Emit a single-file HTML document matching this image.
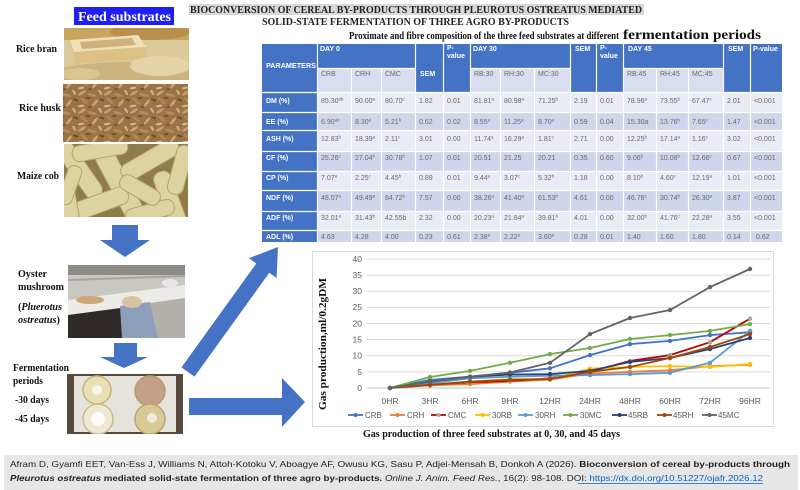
<!DOCTYPE html>
<html><head><meta charset="utf-8"><style>
html,body{margin:0;padding:0;background:#fff;width:800px;height:490px;overflow:hidden}
svg{display:block}
.sb{font-family:"Liberation Serif",serif;font-weight:bold}
.ss{font-family:"Liberation Sans",sans-serif}
.td{font-family:"Liberation Sans",sans-serif;font-size:7px;fill:#6b6b6b}
.th{font-family:"Liberation Sans",sans-serif;font-size:7px;fill:#fff;font-weight:bold}
.tk{font-family:"Liberation Sans",sans-serif;font-size:8.5px;fill:#595959}
.lg{font-family:"Liberation Sans",sans-serif;font-size:8px;fill:#595959}
</style></head><body>
<svg width="800" height="490" viewBox="0 0 800 490" xmlns="http://www.w3.org/2000/svg">
<defs>
<pattern id="husk" width="26" height="18" patternUnits="userSpaceOnUse">
<rect width="26" height="18" fill="#9a7348"/>
<ellipse cx="4" cy="3" rx="4.5" ry="1.4" fill="#c9a06a" transform="rotate(-30 4 3)"/>
<ellipse cx="14" cy="5" rx="5" ry="1.4" fill="#b88c58" transform="rotate(15 14 5)"/>
<ellipse cx="22" cy="2" rx="3.5" ry="1.2" fill="#d4ae78" transform="rotate(60 22 2)"/>
<ellipse cx="6" cy="11" rx="5" ry="1.5" fill="#b48552" transform="rotate(40 6 11)"/>
<ellipse cx="17" cy="13" rx="4.5" ry="1.3" fill="#cfa670" transform="rotate(-50 17 13)"/>
<ellipse cx="24" cy="10" rx="3" ry="1" fill="#6e4a28" transform="rotate(20 24 10)"/>
<ellipse cx="10" cy="8" rx="2.5" ry="0.8" fill="#6a4626"/>
<ellipse cx="3" cy="16" rx="3.5" ry="1.1" fill="#d8b884" transform="rotate(-10 3 16)"/>
<ellipse cx="12" cy="17" rx="2" ry="0.8" fill="#704c2a"/>
</pattern>
<clipPath id="c1"><rect x="64" y="28" width="125" height="52"/></clipPath>
<clipPath id="c3"><rect x="64" y="144" width="124" height="73"/></clipPath>
<clipPath id="c4"><rect x="68" y="265" width="117" height="73"/></clipPath>
<clipPath id="c5"><rect x="67" y="374" width="116" height="60"/></clipPath>
<marker id="mCRB" markerWidth="6" markerHeight="6" refX="3" refY="3" markerUnits="userSpaceOnUse"><circle cx="3" cy="3" r="2.2" fill="#4472c4"/></marker>
<marker id="mCRH" markerWidth="6" markerHeight="6" refX="3" refY="3" markerUnits="userSpaceOnUse"><circle cx="3" cy="3" r="2.2" fill="#ed7d31"/></marker>
<marker id="mCMC" markerWidth="6" markerHeight="6" refX="3" refY="3" markerUnits="userSpaceOnUse"><circle cx="3" cy="3" r="2.2" fill="#a5a5a5"/></marker>
<marker id="m30RB" markerWidth="6" markerHeight="6" refX="3" refY="3" markerUnits="userSpaceOnUse"><circle cx="3" cy="3" r="2.2" fill="#ffc000"/></marker>
<marker id="m30RH" markerWidth="6" markerHeight="6" refX="3" refY="3" markerUnits="userSpaceOnUse"><circle cx="3" cy="3" r="2.2" fill="#5b9bd5"/></marker>
<marker id="m30MC" markerWidth="6" markerHeight="6" refX="3" refY="3" markerUnits="userSpaceOnUse"><circle cx="3" cy="3" r="2.2" fill="#70ad47"/></marker>
<marker id="m45RB" markerWidth="6" markerHeight="6" refX="3" refY="3" markerUnits="userSpaceOnUse"><circle cx="3" cy="3" r="2.2" fill="#264478"/></marker>
<marker id="m45RH" markerWidth="6" markerHeight="6" refX="3" refY="3" markerUnits="userSpaceOnUse"><circle cx="3" cy="3" r="2.2" fill="#9e480e"/></marker>
<marker id="m45MC" markerWidth="6" markerHeight="6" refX="3" refY="3" markerUnits="userSpaceOnUse"><circle cx="3" cy="3" r="2.2" fill="#636363"/></marker>
</defs>

<!-- Titles -->
<rect x="74" y="7" width="100" height="18" fill="#1f1ff5"/>
<text x="78" y="21" class="sb" font-size="14" fill="#fff" textLength="93" lengthAdjust="spacingAndGlyphs">Feed substrates</text>
<rect x="189" y="4" width="455" height="11" fill="#d9d9d9"/>
<text x="190" y="13" class="sb" font-size="10.5" fill="#222" textLength="452" lengthAdjust="spacingAndGlyphs">BIOCONVERSION OF CEREAL BY-PRODUCTS THROUGH  PLEUROTUS OSTREATUS MEDIATED</text>
<text x="262" y="25" class="sb" font-size="10.5" fill="#222" textLength="307" lengthAdjust="spacingAndGlyphs">SOLID-STATE FERMENTATION OF THREE AGRO BY-PRODUCTS</text>
<text x="349" y="39" class="sb" font-size="10.5" fill="#111" textLength="270" lengthAdjust="spacingAndGlyphs">Proximate and fibre composition of the three feed substrates at different</text>
<text x="623" y="39" class="sb" font-size="13.5" fill="#111" textLength="86" lengthAdjust="spacingAndGlyphs">fermentation</text>
<text x="713" y="39" class="sb" font-size="13.5" fill="#111" textLength="48" lengthAdjust="spacingAndGlyphs">periods</text>

<!-- Left labels -->
<g class="sb" font-size="10" fill="#111">
<text x="16" y="52" textLength="41" lengthAdjust="spacingAndGlyphs">Rice bran</text>
<text x="19" y="111" textLength="42" lengthAdjust="spacingAndGlyphs">Rice husk</text>
<text x="17" y="179" textLength="42" lengthAdjust="spacingAndGlyphs">Maize cob</text>
<text x="18" y="277" textLength="29" lengthAdjust="spacingAndGlyphs">Oyster</text>
<text x="18" y="290" textLength="46" lengthAdjust="spacingAndGlyphs">mushroom</text>
<text x="18" y="310" textLength="44" lengthAdjust="spacingAndGlyphs">(<tspan font-style="italic">Pluerotus</tspan></text>
<text x="18" y="323" textLength="42" lengthAdjust="spacingAndGlyphs"><tspan font-style="italic">ostreatus</tspan>)</text>
<text x="13" y="371" textLength="56" lengthAdjust="spacingAndGlyphs">Fermentation</text>
<text x="13" y="384" textLength="30" lengthAdjust="spacingAndGlyphs">periods</text>
<text x="15" y="403" textLength="34" lengthAdjust="spacingAndGlyphs">-30 days</text>
<text x="15" y="422" textLength="34" lengthAdjust="spacingAndGlyphs">-45 days</text>
</g>

<!-- Rice bran photo -->
<g clip-path="url(#c1)">
<rect x="64" y="28" width="125" height="52" fill="#dcc99a"/>
<rect x="64" y="28" width="125" height="12" fill="#c9a660"/>
<ellipse cx="150" cy="32" rx="40" ry="8" fill="#b98f4c"/>
<polygon points="70,40 138,35 146,47 74,52" fill="#efdfb4"/>
<polygon points="80,42 132,38 136,45 82,49" fill="#cdb27a"/>
<polygon points="74,52 146,47 146,58 74,64" fill="#dcc084"/>
<ellipse cx="125" cy="76" rx="75" ry="14" fill="#cbb47e"/>
<ellipse cx="160" cy="66" rx="30" ry="10" fill="#e3d3a6"/>
<ellipse cx="80" cy="74" rx="20" ry="6" fill="#d9c693"/>
</g>

<!-- Rice husk photo -->
<rect x="63" y="84" width="125" height="58" fill="url(#husk)"/>

<!-- Maize cob photo -->
<g clip-path="url(#c3)">
<rect x="64" y="144" width="124" height="73" fill="#8f7c48"/>
<g fill="#ddd3a0" stroke="#b5a56a" stroke-width="1">
<rect x="-9" y="-35" width="18" height="70" rx="8" transform="translate(78,168) rotate(-35)"/>
<rect x="-10" y="-40" width="20" height="80" rx="9" transform="translate(120,185) rotate(-28)"/>
<rect x="-9" y="-32" width="18" height="64" rx="8" transform="translate(150,160) rotate(60)"/>
<rect x="-9" y="-35" width="18" height="70" rx="8" transform="translate(95,205) rotate(70)"/>
<rect x="-9" y="-30" width="18" height="60" rx="8" transform="translate(170,200) rotate(-20)"/>
<rect x="-8" y="-28" width="16" height="56" rx="7" transform="translate(100,150) rotate(80)"/>
<rect x="-8" y="-25" width="16" height="50" rx="7" transform="translate(150,212) rotate(75)"/>
<rect x="-8" y="-25" width="16" height="50" rx="7" transform="translate(70,210) rotate(-10)"/>
<rect x="-8" y="-25" width="16" height="50" rx="7" transform="translate(180,170) rotate(15)"/>
<rect x="-8" y="-22" width="16" height="44" rx="7" transform="translate(140,190) rotate(-60)"/>
<rect x="-7" y="-20" width="14" height="40" rx="6" transform="translate(70,185) rotate(20)"/>
</g>
</g>

<!-- Oyster mushroom photo -->
<g clip-path="url(#c4)">
<rect x="68" y="265" width="117" height="73" fill="#c9c7c2"/>
<rect x="68" y="265" width="117" height="10" fill="#8e8a85"/>
<line x1="68" y1="280" x2="185" y2="276" stroke="#a8a49e" stroke-width="2"/>
<polygon points="68,300 185,285 185,305 68,318" fill="#ecebe8"/>
<polygon points="68,315 135,306 128,338 68,338" fill="#2f2a27"/>
<polygon points="120,306 150,302 158,338 122,338" fill="#8e9fbb"/>
<ellipse cx="132" cy="302" rx="10" ry="6" fill="#d8c2a2"/>
<polygon points="150,303 185,298 185,338 158,338" fill="#b3afaa"/>
<ellipse cx="90" cy="300" rx="14" ry="4" fill="#caa878"/>
<ellipse cx="170" cy="283" rx="8" ry="4" fill="#e8e8e8"/>
</g>

<!-- Fermentation photo -->
<g clip-path="url(#c5)">
<rect x="67" y="374" width="116" height="60" fill="#57493c"/>
<rect x="74" y="376" width="102" height="56" fill="#e6e3dc"/>
<circle cx="97" cy="390" r="14" fill="#e9e0b4" stroke="#c4b47c" stroke-width="1.5"/>
<circle cx="97" cy="390" r="5" fill="#f6f5ee"/>
<circle cx="150" cy="391" r="15" fill="#c4a08a" stroke="#b89a70" stroke-width="1.5"/>
<circle cx="98" cy="419" r="15" fill="#ece8d2" stroke="#c8bc88" stroke-width="1.5"/>
<circle cx="98" cy="419" r="7" fill="#fbfbf8"/>
<circle cx="150" cy="419" r="15" fill="#d8ca95" stroke="#b8a66a" stroke-width="1.5"/>
<circle cx="152" cy="418" r="5" fill="#f0ece0"/>
</g>

<!-- Arrows -->
<g fill="#4472c4">
<polygon points="112,225 138,225 138,240 150,240 125,257 100,240 112,240"/>
<polygon points="114,343 137,343 137,357 148,357 124,368 100,357 114,357"/>
<polygon points="189,398 282,398 282,378 305,402 282,427 282,415 189,415"/>
<polygon points="0,-8 128,-8 128,-17 154,0 128,17 128,8 0,8" transform="translate(188,372) rotate(-54.25)"/>
</g>

<!-- Table -->
<rect x="262" y="44" width="520" height="198" fill="#fff"/>
<rect x="262" y="44" width="520" height="48" fill="#4472c4"/>
<g fill="#d8ddef">
<rect x="318" y="69" width="97" height="23"/>
<rect x="471" y="69" width="99" height="23"/>
<rect x="624" y="69" width="99" height="23"/>
</g>
<rect x="262" y="93" width="520" height="19" fill="#e9ebf5"/>
<rect x="262" y="113" width="520" height="17" fill="#cfd5ea"/>
<rect x="262" y="131" width="520" height="20" fill="#e9ebf5"/>
<rect x="262" y="152" width="520" height="19" fill="#cfd5ea"/>
<rect x="262" y="172" width="520" height="18" fill="#e9ebf5"/>
<rect x="262" y="191" width="520" height="20" fill="#cfd5ea"/>
<rect x="262" y="212" width="520" height="18" fill="#e9ebf5"/>
<rect x="262" y="231" width="520" height="11" fill="#cfd5ea"/>
<rect x="262" y="93" width="55" height="149" fill="#4472c4"/>
<g stroke="#fff" stroke-width="1.2">
<line x1="317.5" y1="44" x2="317.5" y2="242"/>
<line x1="351.5" y1="69" x2="351.5" y2="242"/>
<line x1="381.5" y1="69" x2="381.5" y2="242"/>
<line x1="415.5" y1="44" x2="415.5" y2="242"/>
<line x1="443.5" y1="44" x2="443.5" y2="242"/>
<line x1="470.5" y1="44" x2="470.5" y2="242"/>
<line x1="500.5" y1="69" x2="500.5" y2="242"/>
<line x1="534.5" y1="69" x2="534.5" y2="242"/>
<line x1="570.5" y1="44" x2="570.5" y2="242"/>
<line x1="596.5" y1="44" x2="596.5" y2="242"/>
<line x1="623.5" y1="44" x2="623.5" y2="242"/>
<line x1="656.5" y1="69" x2="656.5" y2="242"/>
<line x1="688.5" y1="69" x2="688.5" y2="242"/>
<line x1="723.5" y1="44" x2="723.5" y2="242"/>
<line x1="750.5" y1="44" x2="750.5" y2="242"/>
<line x1="318" y1="68.5" x2="415" y2="68.5"/>
<line x1="471" y1="68.5" x2="570" y2="68.5"/>
<line x1="624" y1="68.5" x2="723" y2="68.5"/>
<line x1="262" y1="92.5" x2="782" y2="92.5"/>
<line x1="262" y1="112.5" x2="782" y2="112.5"/>
<line x1="262" y1="130.5" x2="782" y2="130.5"/>
<line x1="262" y1="151.5" x2="782" y2="151.5"/>
<line x1="262" y1="171.5" x2="782" y2="171.5"/>
<line x1="262" y1="190.5" x2="782" y2="190.5"/>
<line x1="262" y1="211.5" x2="782" y2="211.5"/>
<line x1="262" y1="230.5" x2="782" y2="230.5"/>
</g>
<!-- header text -->
<text x="266" y="68" class="th" textLength="50" lengthAdjust="spacingAndGlyphs">PARAMETERS</text>
<text x="320" y="51" class="th">DAY 0</text>
<text x="420" y="76" class="th">SEM</text>
<text x="447" y="50" class="th">P-</text><text x="447" y="58" class="th">value</text>
<text x="473" y="51" class="th">DAY 30</text>
<text x="575" y="51" class="th">SEM</text>
<text x="600" y="50" class="th">P-</text><text x="600" y="58" class="th">value</text>
<text x="628" y="51" class="th">DAY 45</text>
<text x="728" y="51" class="th">SEM</text>
<text x="753" y="51" class="th">P-value</text>
<g class="td">
<text x="321" y="76">CRB</text><text x="355" y="76">CRH</text><text x="385" y="76">CMC</text>
<text x="474" y="76">RB:30</text><text x="504" y="76">RH:30</text><text x="538" y="76">MC:30</text>
<text x="627" y="76">RB:45</text><text x="660" y="76">RH:45</text><text x="692" y="76">MC:45</text>
</g>
<!-- parameter labels -->
<g class="th">
<text x="266" y="103">DM (%)</text>
<text x="266" y="124">EE (%)</text>
<text x="266" y="141">ASH (%)</text>
<text x="266" y="160">CF (%)</text>
<text x="266" y="180">CP (%)</text>
<text x="266" y="200">NDF (%)</text>
<text x="266" y="220">ADF (%)</text>
<text x="266" y="239">ADL (%)</text>
</g>
<!-- data -->
<g class="td">
<!-- DM -->
<text x="321" y="103">85.30<tspan font-size="4.5" dy="-2.5">ab</tspan></text>
<text x="355" y="103">90.00<tspan font-size="4.5" dy="-2.5">a</tspan></text>
<text x="385" y="103">80.70<tspan font-size="4.5" dy="-2.5">c</tspan></text>
<text x="419" y="103">1.82</text><text x="447" y="103">0.01</text>
<text x="474" y="103">81.81<tspan font-size="4.5" dy="-2.5">a</tspan></text>
<text x="504" y="103">80.98<tspan font-size="4.5" dy="-2.5">a</tspan></text>
<text x="538" y="103">71.25<tspan font-size="4.5" dy="-2.5">b</tspan></text>
<text x="574" y="103">2.19</text><text x="600" y="103">0.01</text>
<text x="627" y="103">78.96<tspan font-size="4.5" dy="-2.5">a</tspan></text>
<text x="660" y="103">73.55<tspan font-size="4.5" dy="-2.5">b</tspan></text>
<text x="692" y="103">67.47<tspan font-size="4.5" dy="-2.5">c</tspan></text>
<text x="727" y="103">2.01</text><text x="754" y="103">&lt;0.001</text>
<!-- EE -->
<text x="321" y="124">6.90<tspan font-size="4.5" dy="-2.5">ab</tspan></text>
<text x="355" y="124">8.30<tspan font-size="4.5" dy="-2.5">a</tspan></text>
<text x="385" y="124">5.21<tspan font-size="4.5" dy="-2.5">b</tspan></text>
<text x="419" y="124">0.62</text><text x="447" y="124">0.02</text>
<text x="474" y="124">8.55<tspan font-size="4.5" dy="-2.5">a</tspan></text>
<text x="504" y="124">11.25<tspan font-size="4.5" dy="-2.5">a</tspan></text>
<text x="538" y="124">8.70<tspan font-size="4.5" dy="-2.5">a</tspan></text>
<text x="574" y="124">0.59</text><text x="600" y="124">0.04</text>
<text x="627" y="124">15.30a</text>
<text x="660" y="124">13.76<tspan font-size="4.5" dy="-2.5">b</tspan></text>
<text x="692" y="124">7.65<tspan font-size="4.5" dy="-2.5">c</tspan></text>
<text x="727" y="124">1.47</text><text x="754" y="124">&lt;0.001</text>
<!-- ASH -->
<text x="321" y="141">12.83<tspan font-size="4.5" dy="-2.5">b</tspan></text>
<text x="355" y="141">18.39<tspan font-size="4.5" dy="-2.5">a</tspan></text>
<text x="385" y="141">2.11<tspan font-size="4.5" dy="-2.5">c</tspan></text>
<text x="419" y="141">3.01</text><text x="447" y="141">0.00</text>
<text x="474" y="141">11.74<tspan font-size="4.5" dy="-2.5">a</tspan></text>
<text x="504" y="141">16.29<tspan font-size="4.5" dy="-2.5">a</tspan></text>
<text x="538" y="141">1.81<tspan font-size="4.5" dy="-2.5">c</tspan></text>
<text x="574" y="141">2.71</text><text x="600" y="141">0.00</text>
<text x="627" y="141">12.25<tspan font-size="4.5" dy="-2.5">b</tspan></text>
<text x="660" y="141">17.14<tspan font-size="4.5" dy="-2.5">a</tspan></text>
<text x="692" y="141">1.16<tspan font-size="4.5" dy="-2.5">c</tspan></text>
<text x="727" y="141">3.02</text><text x="754" y="141">&lt;0.001</text>
<!-- CF -->
<text x="321" y="160">25.26<tspan font-size="4.5" dy="-2.5">c</tspan></text>
<text x="355" y="160">27.04<tspan font-size="4.5" dy="-2.5">b</tspan></text>
<text x="385" y="160">30.78<tspan font-size="4.5" dy="-2.5">b</tspan></text>
<text x="419" y="160">1.07</text><text x="447" y="160">0.01</text>
<text x="474" y="160">20.51</text>
<text x="504" y="160">21.25</text>
<text x="538" y="160">20.21</text>
<text x="574" y="160">0.35</text><text x="600" y="160">0.60</text>
<text x="627" y="160">9.06<tspan font-size="4.5" dy="-2.5">b</tspan></text>
<text x="660" y="160">10.08<tspan font-size="4.5" dy="-2.5">b</tspan></text>
<text x="692" y="160">12.66<tspan font-size="4.5" dy="-2.5">c</tspan></text>
<text x="727" y="160">0.67</text><text x="754" y="160">&lt;0.001</text>
<!-- CP -->
<text x="321" y="180">7.07<tspan font-size="4.5" dy="-2.5">a</tspan></text>
<text x="355" y="180">2.25<tspan font-size="4.5" dy="-2.5">c</tspan></text>
<text x="385" y="180">4.45<tspan font-size="4.5" dy="-2.5">b</tspan></text>
<text x="419" y="180">0.89</text><text x="447" y="180">0.01</text>
<text x="474" y="180">9.44<tspan font-size="4.5" dy="-2.5">a</tspan></text>
<text x="504" y="180">3.07<tspan font-size="4.5" dy="-2.5">c</tspan></text>
<text x="538" y="180">5.32<tspan font-size="4.5" dy="-2.5">b</tspan></text>
<text x="574" y="180">1.18</text><text x="600" y="180">0.00</text>
<text x="627" y="180">8.10<tspan font-size="4.5" dy="-2.5">b</tspan></text>
<text x="660" y="180">4.60<tspan font-size="4.5" dy="-2.5">c</tspan></text>
<text x="692" y="180">12.19<tspan font-size="4.5" dy="-2.5">a</tspan></text>
<text x="727" y="180">1.01</text><text x="754" y="180">&lt;0.001</text>
<!-- NDF -->
<text x="321" y="200">48.07<tspan font-size="4.5" dy="-2.5">a</tspan></text>
<text x="355" y="200">49.49<tspan font-size="4.5" dy="-2.5">a</tspan></text>
<text x="385" y="200">84.72<tspan font-size="4.5" dy="-2.5">b</tspan></text>
<text x="419" y="200">7.57</text><text x="447" y="200">0.00</text>
<text x="474" y="200">38.26<tspan font-size="4.5" dy="-2.5">a</tspan></text>
<text x="504" y="200">41.40<tspan font-size="4.5" dy="-2.5">a</tspan></text>
<text x="538" y="200">61.53<tspan font-size="4.5" dy="-2.5">b</tspan></text>
<text x="574" y="200">4.61</text><text x="600" y="200">0.00</text>
<text x="627" y="200">46.76<tspan font-size="4.5" dy="-2.5">c</tspan></text>
<text x="660" y="200">30.74<tspan font-size="4.5" dy="-2.5">b</tspan></text>
<text x="692" y="200">26.30<tspan font-size="4.5" dy="-2.5">a</tspan></text>
<text x="727" y="200">3.87</text><text x="754" y="200">&lt;0.001</text>
<!-- ADF -->
<text x="321" y="220">32.01<tspan font-size="4.5" dy="-2.5">a</tspan></text>
<text x="355" y="220">31.43<tspan font-size="4.5" dy="-2.5">b</tspan></text>
<text x="385" y="220">42.55b</text>
<text x="419" y="220">2.32</text><text x="447" y="220">0.00</text>
<text x="474" y="220">20.23<tspan font-size="4.5" dy="-2.5">a</tspan></text>
<text x="504" y="220">21.84<tspan font-size="4.5" dy="-2.5">a</tspan></text>
<text x="538" y="220">39.81<tspan font-size="4.5" dy="-2.5">b</tspan></text>
<text x="574" y="220">4.01</text><text x="600" y="220">0.00</text>
<text x="627" y="220">32.00<tspan font-size="4.5" dy="-2.5">b</tspan></text>
<text x="660" y="220">41.76<tspan font-size="4.5" dy="-2.5">c</tspan></text>
<text x="692" y="220">22.28<tspan font-size="4.5" dy="-2.5">a</tspan></text>
<text x="727" y="220">3.55</text><text x="754" y="220">&lt;0.001</text>
<!-- ADL -->
<text x="321" y="239">4.63</text>
<text x="355" y="239">4.28</text>
<text x="385" y="239">4.00</text>
<text x="419" y="239">0.23</text><text x="447" y="239">0.61</text>
<text x="474" y="239">2.38<tspan font-size="4.5" dy="-2.5">a</tspan></text>
<text x="504" y="239">2.22<tspan font-size="4.5" dy="-2.5">a</tspan></text>
<text x="538" y="239">3.60<tspan font-size="4.5" dy="-2.5">a</tspan></text>
<text x="574" y="239">0.28</text><text x="600" y="239">0.01</text>
<text x="627" y="239">1.40</text>
<text x="660" y="239">1.60</text>
<text x="692" y="239">1.80</text>
<text x="727" y="239">0.14</text><text x="756" y="239">0.62</text>
</g>

<!-- Chart -->
<rect x="312.5" y="251.5" width="461" height="175" fill="#fff" stroke="#d9d9d9" stroke-width="1"/>
<g stroke="#d9d9d9" stroke-width="1">
<line x1="367" y1="259" x2="770" y2="259"/>
<line x1="367" y1="275.1" x2="770" y2="275.1"/>
<line x1="367" y1="291.25" x2="770" y2="291.25"/>
<line x1="367" y1="307.4" x2="770" y2="307.4"/>
<line x1="367" y1="323.5" x2="770" y2="323.5"/>
<line x1="367" y1="339.6" x2="770" y2="339.6"/>
<line x1="367" y1="355.75" x2="770" y2="355.75"/>
<line x1="367" y1="371.9" x2="770" y2="371.9"/>
</g>
<line x1="367" y1="388" x2="770" y2="388" stroke="#bfbfbf" stroke-width="1"/>
<g class="tk" text-anchor="end">
<text x="362" y="262">40</text>
<text x="362" y="278">35</text>
<text x="362" y="294">30</text>
<text x="362" y="310">25</text>
<text x="362" y="326.5">20</text>
<text x="362" y="342.5">15</text>
<text x="362" y="358.5">10</text>
<text x="362" y="375">5</text>
<text x="362" y="391">0</text>
</g>
<g class="tk" text-anchor="middle">
<text x="390" y="404">0HR</text>
<text x="430" y="404">3HR</text>
<text x="470" y="404">6HR</text>
<text x="510" y="404">9HR</text>
<text x="550" y="404">12HR</text>
<text x="590" y="404">24HR</text>
<text x="630" y="404">48HR</text>
<text x="670" y="404">60HR</text>
<text x="710" y="404">72HR</text>
<text x="750" y="404">96HR</text>
</g>
<text transform="translate(326,410) rotate(-90)" class="sb" font-size="11" fill="#111" textLength="132" lengthAdjust="spacingAndGlyphs">Gas production,ml/0.2gDM</text>

<g fill="none" stroke-width="1.8" stroke-linejoin="round">
<polyline stroke="#4472c4" marker-start="url(#mCRB)" marker-mid="url(#mCRB)" marker-end="url(#mCRB)" points="390,388 430,379.9 470,376.7 510,372.8 550,368.3 590,355.1 630,344.1 670,340.9 710,335.1 750,332.2"/>
<polyline stroke="#ed7d31" marker-start="url(#mCRH)" marker-mid="url(#mCRH)" marker-end="url(#mCRH)" points="390,388 430,385.4 470,384.1 510,381.6 550,379.6 590,373.5 630,371.9 670,370.3 710,366.1 750,364.8"/>
<polyline stroke="#c00000" marker-start="url(#mCMC)" marker-mid="url(#mCMC)" marker-end="url(#mCMC)" points="390,388 430,384.8 470,382.2 510,380.9 550,378.3 590,371.9 630,360.9 670,355.1 710,342.2 750,318.7"/>
<polyline stroke="#ffc000" marker-start="url(#m30RB)" marker-mid="url(#m30RB)" marker-end="url(#m30RB)" points="390,388 430,384.8 470,381.6 510,379 550,379 590,368.7 630,367 670,366.1 710,367 750,364.1"/>
<polyline stroke="#5b9bd5" marker-start="url(#m30RH)" marker-mid="url(#m30RH)" marker-end="url(#m30RH)" points="390,388 430,383.2 470,378.3 510,376.7 550,375.7 590,375.1 630,374.1 670,372.8 710,362.8 750,330.9"/>
<polyline stroke="#70ad47" marker-start="url(#m30MC)" marker-mid="url(#m30MC)" marker-end="url(#m30MC)" points="390,388 430,377 470,370.9 510,362.8 550,354.1 590,348 630,339 670,335.1 710,330.9 750,324.1"/>
<polyline stroke="#264478" marker-start="url(#m45RB)" marker-mid="url(#m45RB)" marker-end="url(#m45RB)" points="390,388 430,381.6 470,376.7 510,374.5 550,374.1 590,370.9 630,361.9 670,358 710,349 750,338"/>
<polyline stroke="#9e480e" marker-start="url(#m45RH)" marker-mid="url(#m45RH)" marker-end="url(#m45RH)" points="390,388 430,384.8 470,381.6 510,379.9 550,379 590,371.9 630,367 670,358 710,347 750,334.1"/>
<polyline stroke="#636363" marker-start="url(#m45MC)" marker-mid="url(#m45MC)" marker-end="url(#m45MC)" points="390,388 430,381.6 470,376.7 510,372.5 550,362.8 590,334.1 630,318 670,310 710,287.1 750,269"/>
</g>

<!-- Legend -->
<g stroke-width="1.8">
<line x1="348" y1="415" x2="363" y2="415" stroke="#4472c4"/><circle cx="355.5" cy="415" r="2" fill="#4472c4"/>
<line x1="390" y1="415" x2="405" y2="415" stroke="#ed7d31"/><circle cx="397.5" cy="415" r="2" fill="#ed7d31"/>
<line x1="431" y1="415" x2="446" y2="415" stroke="#c00000"/><circle cx="438.5" cy="415" r="2" fill="#a5a5a5"/>
<line x1="475" y1="415" x2="490" y2="415" stroke="#ffc000"/><circle cx="482.5" cy="415" r="2" fill="#ffc000"/>
<line x1="518" y1="415" x2="533" y2="415" stroke="#5b9bd5"/><circle cx="525.5" cy="415" r="2" fill="#5b9bd5"/>
<line x1="563" y1="415" x2="578" y2="415" stroke="#70ad47"/><circle cx="570.5" cy="415" r="2" fill="#70ad47"/>
<line x1="612" y1="415" x2="627" y2="415" stroke="#264478"/><circle cx="619.5" cy="415" r="2" fill="#264478"/>
<line x1="657" y1="415" x2="672" y2="415" stroke="#9e480e"/><circle cx="664.5" cy="415" r="2" fill="#9e480e"/>
<line x1="702" y1="415" x2="717" y2="415" stroke="#636363"/><circle cx="709.5" cy="415" r="2" fill="#636363"/>
</g>
<g class="lg">
<text x="365" y="418">CRB</text>
<text x="407" y="418">CRH</text>
<text x="448" y="418">CMC</text>
<text x="492" y="418">30RB</text>
<text x="535" y="418">30RH</text>
<text x="580" y="418">30MC</text>
<text x="628" y="418">45RB</text>
<text x="673" y="418">45RH</text>
<text x="718" y="418">45MC</text>
</g>
<text x="363" y="437" class="sb" font-size="10" fill="#111" textLength="257" lengthAdjust="spacingAndGlyphs">Gas production of three feed substrates at 0, 30, and 45 days</text>

<!-- Citation -->
<rect x="4" y="455" width="794" height="35" fill="#e6e6e6"/>
<text x="10" y="467" class="ss" font-size="8.5" fill="#222" textLength="780" lengthAdjust="spacingAndGlyphs">Afram D, Gyamfi EET, Van-Ess J, Williams N, Attoh-Kotoku V, Aboagye AF, Owusu KG, Sasu P, Adjei-Mensah B, Donkoh  A (2026). <tspan font-weight="bold">Bioconversion of cereal by-products through</tspan></text>
<text x="10" y="481" class="ss" font-size="8.5" fill="#222" textLength="753" lengthAdjust="spacingAndGlyphs"><tspan font-weight="bold" font-style="italic">Pleurotus ostreatus</tspan><tspan font-weight="bold"> mediated solid-state fermentation of three agro by-products.</tspan> <tspan font-style="italic">Online J. Anim. Feed Res.</tspan>, 16(2): 98-108. DOI: <tspan fill="#0563c1">https://dx.doi.org/10.51227/ojafr.2026.12</tspan></text>
<line x1="578" y1="483.5" x2="763" y2="483.5" stroke="#0563c1" stroke-width="0.8"/>
</svg>
</body></html>
